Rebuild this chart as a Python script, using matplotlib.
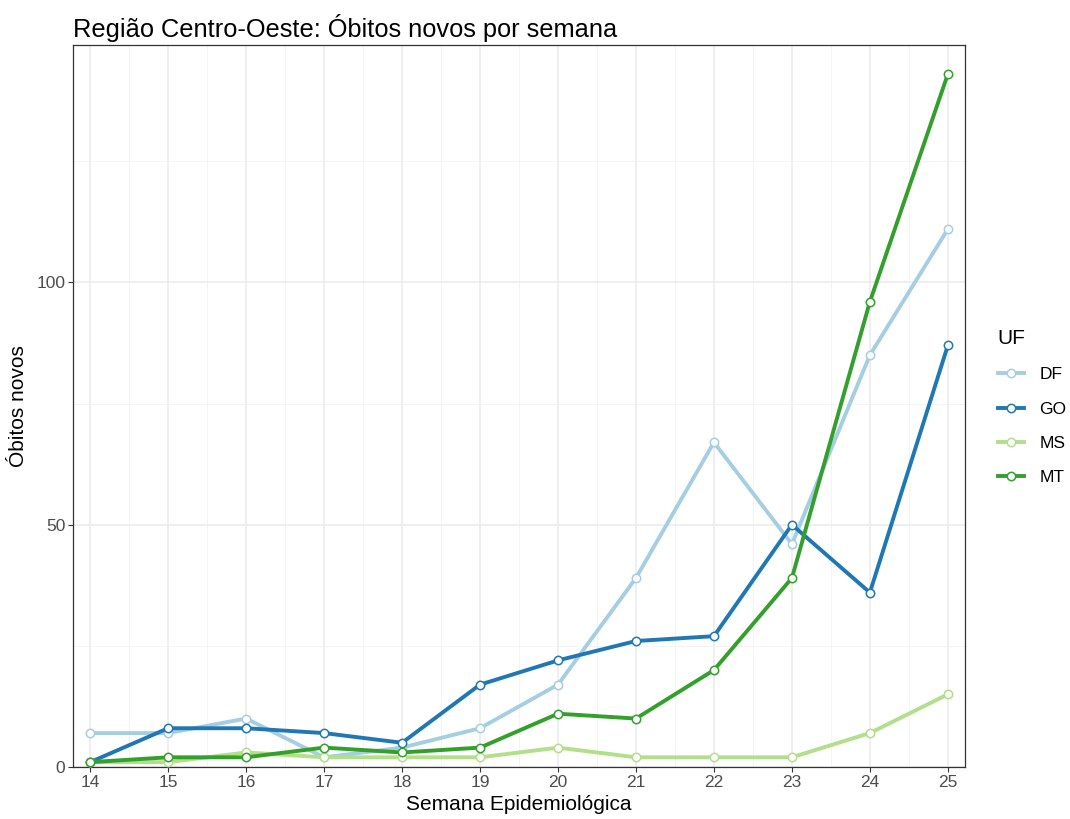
import matplotlib.pyplot as plt
from matplotlib.ticker import MultipleLocator

plt.rcParams['font.family'] = ['Liberation Sans', 'DejaVu Sans']

# semanas epidemiologicas
semanas = [14, 15, 16, 17, 18, 19, 20, 21, 22, 23, 24, 25]

# obitos novos por UF
df = [7, 7, 10, 2, 4, 8, 17, 39, 67, 46, 85, 111]
go = [1, 8, 8, 7, 5, 17, 22, 26, 27, 50, 36, 87]
ms = [1, 1, 3, 2, 2, 2, 4, 2, 2, 2, 7, 15]
mt = [1, 2, 2, 4, 3, 4, 11, 10, 20, 39, 96, 143]

ufs = ['DF', 'GO', 'MS', 'MT']
cores = ['#A6CEE3', '#1F78B4', '#B2DF8A', '#33A02C']
series = [df, go, ms, mt]

fig = plt.figure(figsize=(10.7, 8.19), dpi=100)
ax = fig.add_axes([73 / 1070, 52 / 819, 892 / 1070, 722 / 819])

for uf, vals, cor in zip(ufs, series, cores):
    ax.plot(semanas, vals, color=cor, lw=2.8, marker='o', markersize=6,
            markerfacecolor='white', markeredgecolor=cor, markeredgewidth=1.1,
            label=uf, zorder=3)

ax.set_xlim(13.78, 25.22)
ax.set_ylim(0, 149)
ax.set_xticks(semanas)
ax.xaxis.set_minor_locator(MultipleLocator(0.5))
ax.yaxis.set_major_locator(MultipleLocator(50))
ax.yaxis.set_minor_locator(MultipleLocator(25))
ax.grid(which='major', color='#EBEBEB', lw=1.1, zorder=0)
ax.grid(which='minor', color='#F2F2F2', lw=0.6, zorder=0)
ax.set_axisbelow(True)
ax.tick_params(which='major', length=3.5, color='#333333', labelsize=12.5,
               labelcolor='#4D4D4D', width=0.8, pad=2)
ax.tick_params(which='minor', length=0)
for s in ax.spines.values():
    s.set_color('#333333')
    s.set_linewidth(0.9)

ax.set_xlabel('Semana Epidemiológica', fontsize=15, labelpad=4)
ax.set_ylabel('Óbitos novos', fontsize=15, labelpad=6)
fig.text(73 / 1070, 1 - 28 / 819, 'Região Centro-Oeste: Óbitos novos por semana',
         fontsize=18.3, va='center', ha='left')

leg = ax.legend(title='UF', loc='upper left', bbox_to_anchor=(1.019, 0.628),
                frameon=False, fontsize=12.5, title_fontsize=15, handlelength=1.55,
                handletextpad=0.85, labelspacing=1.1, alignment='left')

fig.savefig('out.png', dpi=100)
